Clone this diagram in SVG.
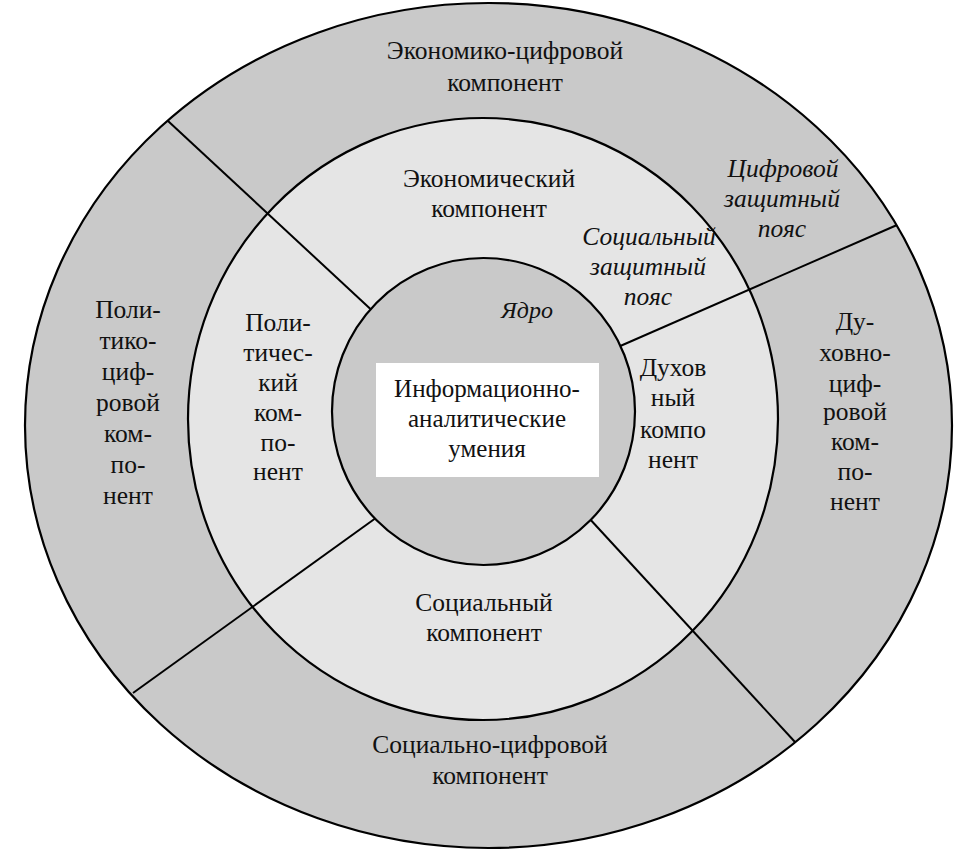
<svg xmlns="http://www.w3.org/2000/svg" width="975" height="867" viewBox="0 0 975 867">
<style>
.ring{stroke:#000;stroke-width:2.2}
.t{font-family:"Liberation Serif","Times New Roman",serif;font-size:25.5px;fill:#111;text-anchor:middle}
.i{font-style:italic}
.c{font-size:25px}
.ln{stroke:#000;stroke-width:2;fill:none}
</style>
<rect width="975" height="867" fill="#fff"/>
<g id="outer-ring">
<ellipse class="ring" cx="488.5" cy="425.5" rx="463.5" ry="422.5" fill="#c9c9c9"/>
</g>
<g id="middle-ring">
<ellipse class="ring" cx="483" cy="419" rx="295" ry="301" fill="#e5e5e5"/>
</g>
<g id="connectors">
<line class="ln" x1="168" y1="121" x2="378" y2="316"/>
<line class="ln" x1="133" y1="693" x2="380" y2="515"/>
<line class="ln" x1="795" y1="742" x2="588" y2="517"/>
<line class="ln" x1="897" y1="225" x2="618" y2="347"/>
</g>
<g id="core">
<ellipse class="ring" cx="483.5" cy="411.5" rx="151.5" ry="153.5" fill="#c9c9c9"/>
<text class="t i" x="527" y="318" style="font-size:24px">Ядро</text>
</g>
<g id="core-box">
<rect x="376" y="363" width="223" height="114" fill="#fff"/>
<text class="t c" x="487" y="397">Информационно-</text>
<text class="t c" x="487" y="427">аналитические</text>
<text class="t c" x="487" y="457">умения</text>
</g>
<g id="econ-digital">
<text class="t" x="505" y="59">Экономико-цифровой</text>
<text class="t" x="505" y="91">компонент</text>
</g>
<g id="digital-belt">
<text class="t i" x="783" y="177">Цифровой</text>
<text class="t i" x="782" y="207">защитный</text>
<text class="t i" x="782" y="237">пояс</text>
</g>
<g id="econ">
<text class="t" x="489" y="187">Экономический</text>
<text class="t" x="489" y="217">компонент</text>
</g>
<g id="social-belt">
<text class="t i" x="649" y="245">Социальный</text>
<text class="t i" x="648" y="275">защитный</text>
<text class="t i" x="648" y="305">пояс</text>
</g>
<g id="polit-digital">
<text class="t" x="128" y="318">Поли-</text>
<text class="t" x="128" y="349">тико-</text>
<text class="t" x="128" y="380">циф-</text>
<text class="t" x="128" y="411">ровой</text>
<text class="t" x="128" y="442">ком-</text>
<text class="t" x="128" y="473">по-</text>
<text class="t" x="128" y="504">нент</text>
</g>
<g id="polit">
<text class="t" x="278" y="331">Поли-</text>
<text class="t" x="278" y="361">тичес-</text>
<text class="t" x="278" y="391">кий</text>
<text class="t" x="278" y="421">ком-</text>
<text class="t" x="278" y="451">по-</text>
<text class="t" x="278" y="480">нент</text>
</g>
<g id="spirit">
<text class="t" x="673" y="376">Духов</text>
<text class="t" x="673" y="406">ный</text>
<text class="t" x="673" y="438">компо</text>
<text class="t" x="673" y="468">нент</text>
</g>
<g id="spirit-digital">
<text class="t" x="855" y="330">Ду-</text>
<text class="t" x="855" y="361">ховно-</text>
<text class="t" x="855" y="392">циф-</text>
<text class="t" x="855" y="420">ровой</text>
<text class="t" x="855" y="450">ком-</text>
<text class="t" x="855" y="480">по-</text>
<text class="t" x="855" y="510">нент</text>
</g>
<g id="social">
<text class="t" x="484" y="611">Социальный</text>
<text class="t" x="484" y="641">компонент</text>
</g>
<g id="social-digital">
<text class="t" x="490" y="753">Социально-цифровой</text>
<text class="t" x="490" y="784">компонент</text>
</g>
</svg>
